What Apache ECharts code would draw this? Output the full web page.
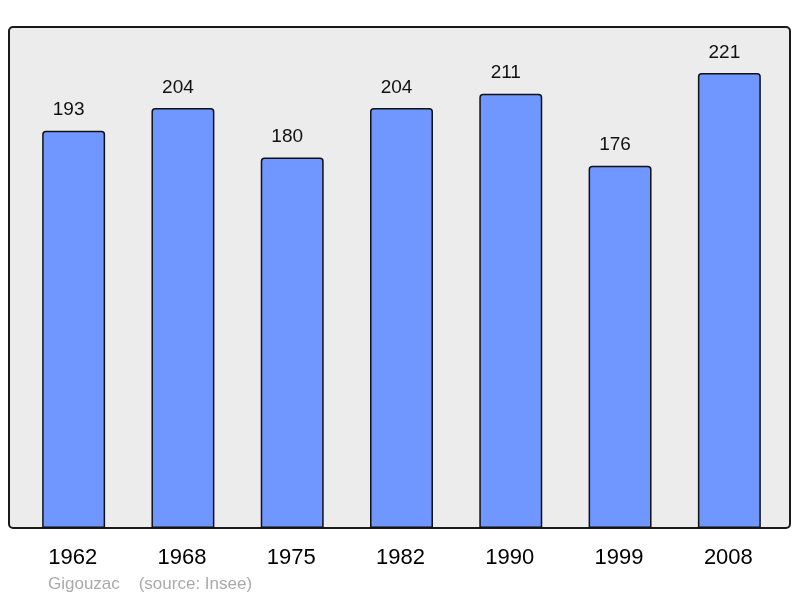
<!DOCTYPE html>
<html><head><meta charset="utf-8">
<script src="https://cdn.jsdelivr.net/npm/echarts@6/dist/echarts.min.js"></script>
<style>html,body{margin:0;padding:0;background:#fff}#c{width:800px;height:598px}</style>
</head><body><div id="c"></div>
<script>
const categories = ['1962','1968','1975','1982','1990','1999','2008'];
const population = [193, 204, 180, 204, 211, 176, 221];
const sourceText = 'Gigouzac    (source: Insee)';

const chart = echarts.init(document.getElementById('c'), null, {renderer:'canvas'});
chart.setOption({
  animation: false,
  backgroundColor: '#ffffff',
  graphic: [
    {type:'rect', z:0, shape:{x:9, y:27, width:781, height:501, r:4},
     style:{fill:'#ececec', stroke:'#1a1a1a', lineWidth:2}},
    {type:'text', z:5, left:48, top:576,
     style:{text: sourceText, fill:'#aaaaaa', font:'17px "Liberation Sans", Arial, sans-serif'}}
  ],
  grid: {left:19, right:16, top:27, bottom:70, containLabel:false},
  xAxis: {
    type:'category', data: categories,
    axisLine:{show:false}, axisTick:{show:false}, splitLine:{show:false},
    axisLabel:{margin:19, fontSize:22, color:'#000', padding:[0,2,0,0],
      fontFamily:'"Liberation Sans", Arial, sans-serif'}
  },
  yAxis: {
    type:'value', min:0, max:243.4,
    axisLine:{show:false}, axisTick:{show:false}, splitLine:{show:false}, axisLabel:{show:false}
  },
  series: [{
    type:'bar', data: population, barWidth:'57.6%', z:2,
    itemStyle:{color:'#7096ff', borderColor:'#111', borderWidth:1.5, borderRadius:[3,3,0,0]},
    label:{show:true, position:'top', distance:11, offset:[-5,0], fontSize:19, color:'#111',
      fontFamily:'"Liberation Sans", Arial, sans-serif'}
  }]
});
</script></body></html>
